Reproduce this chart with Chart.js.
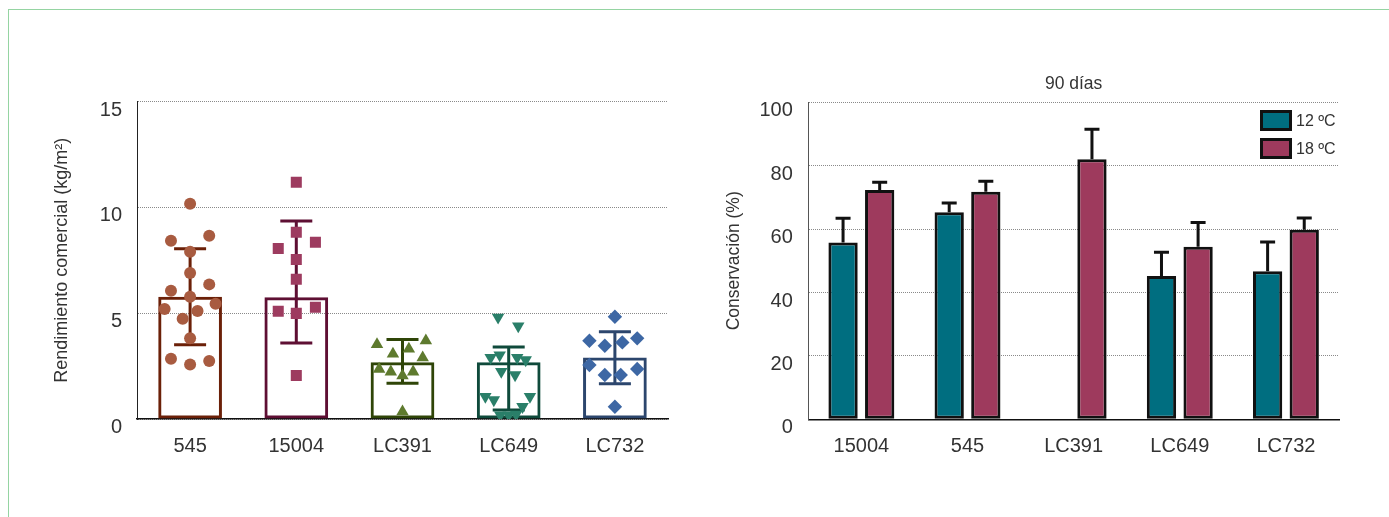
<!DOCTYPE html>
<html>
<head>
<meta charset="utf-8">
<script src="https://cdn.jsdelivr.net/npm/chart.js@4.4.1/dist/chart.umd.min.js"></script>
<style>
  html, body { margin: 0; padding: 0; background: #fff; }
  body { width: 1389px; height: 517px; position: relative; overflow: hidden; }
  .frame { position: absolute; left: 8px; top: 9px; width: 1500px; height: 600px;
           border-left: 1.5px solid #95d4a2; border-top: 1.5px solid #95d4a2; }
  canvas { position: absolute; top: 0; }
  #yieldChart { left: 0; }
  #storeChart { left: 700px; }
</style>
</head>
<body>
<div class="frame"></div>
<canvas id="yieldChart" width="700" height="517"></canvas>
<canvas id="storeChart" width="689" height="517"></canvas>
<script>
// ---- Left panel: commercial yield (kg/m²) per genotype ----
const yieldGenotypes = ['545', '15004', 'LC391', 'LC649', 'LC732'];
const yieldMeans   = [5.78, 5.75, 2.68, 2.68, 2.90];
const yieldErrLow  = [3.51, 3.59, 1.69, 0.42, 1.67];
const yieldErrHigh = [8.04, 9.35, 3.76, 3.40, 4.12];
const yieldTicks   = [0, 5, 10, 15];

// individual plot values and their horizontal spread (fraction of a category)
const plots545    = [10.17, 8.42, 8.66, 7.90, 6.90, 6.06, 6.36, 5.78, 5.20, 5.10, 5.45, 4.74, 3.81, 2.85, 2.74, 2.58];
const jitter545   = [0, -0.18, 0.18, 0, 0, -0.18, 0.18, 0, -0.24, 0.07, 0.24, -0.07, 0, -0.18, 0.18, 0];
const plots15004  = [11.18, 8.82, 8.06, 8.35, 7.54, 6.60, 5.09, 5.28, 4.99, 2.06];
const jitter15004 = [0, 0, -0.17, 0.18, 0, 0, -0.17, 0.18, 0, 0];
const plotsLC391  = [3.52, 3.70, 3.07, 3.31, 2.90, 2.36, 2.23, 2.05, 2.23, 0.35];
const jitterLC391 = [-0.24, 0.22, -0.09, 0.06, 0.19, -0.22, -0.11, 0, 0.10, 0];
const plotsLC649  = [4.80, 4.39, 2.90, 3.02, 2.90, 2.79, 2.24, 2.08, 1.06, 0.90, 1.06, 0.58, 0.19, 0.19, 0.22];
const jitterLC649 = [-0.10, 0.09, -0.17, -0.085, 0.08, 0.16, -0.07, 0.06, -0.22, -0.14, 0.20, 0.13, -0.08, 0, 0.07];
const plotsLC732  = [4.83, 3.70, 3.46, 3.62, 3.81, 2.55, 2.08, 2.08, 2.36, 0.58];
const jitterLC732 = [0, -0.24, -0.095, 0.07, 0.21, -0.24, -0.095, 0.055, 0.21, 0];

// ---- Right panel: conservation (%) after 90 days ----
const storeGenotypes = ['15004', '545', 'LC391', 'LC649', 'LC732'];
const store12  = [55.8, 65.3, null, 45.2, 46.7];
const store12Sd = [7.6, 2.9, null, 7.5, 9.2];
const store18  = [72.3, 71.8, 82.0, 54.4, 59.8];
const store18Sd = [2.5, 3.3, 9.5, 7.7, 3.7];
const storeTicks = [0, 20, 40, 60, 80, 100];

const FONT = '"Liberation Sans", Arial, Helvetica, sans-serif';
const TEXT = '#333333';

// whiskers drawn right after their bar dataset, under any point layer
const errorBarPlugin = {
  id: 'errorBars',
  afterDatasetDraw(chart, args) {
    const ds = chart.data.datasets[args.index];
    const eb = ds.errorBars;
    if (!eb) return;
    const yScale = chart.scales[args.meta.yAxisID];
    const ctx = chart.ctx;
    ctx.save();
    ctx.lineWidth = eb.width;
    ctx.lineCap = 'butt';
    args.meta.data.forEach((bar, i) => {
      const hi = eb.high[i];
      if (hi == null || ds.data[i] == null) return;
      const lo = eb.low ? eb.low[i] : ds.data[i];
      const x = bar.x;
      const yHi = yScale.getPixelForValue(hi);
      const yLo = yScale.getPixelForValue(lo);
      ctx.strokeStyle = Array.isArray(eb.color) ? eb.color[i] : eb.color;
      ctx.beginPath();
      ctx.moveTo(x, yLo); ctx.lineTo(x, yHi);
      ctx.moveTo(x - eb.cap / 2, yHi); ctx.lineTo(x + eb.cap / 2, yHi);
      if (eb.low) { ctx.moveTo(x - eb.cap / 2, yLo); ctx.lineTo(x + eb.cap / 2, yLo); }
      ctx.stroke();
    });
    ctx.restore();
  }
};

// boxed legend in the upper-right corner of the plot area
const cornerLegendPlugin = {
  id: 'cornerLegend',
  afterDraw(chart, args, opts) {
    if (!opts.display) return;
    const { ctx, chartArea } = chart;
    ctx.save();
    chart.data.datasets.forEach((ds, i) => {
      const x = chartArea.right + opts.offsetX;
      const y = chartArea.top + opts.offsetY + i * opts.rowGap;
      const w = opts.boxWidth, h = opts.boxHeight, bw = opts.borderWidth;
      ctx.fillStyle = ds.backgroundColor;
      ctx.fillRect(x, y, w, h);
      ctx.lineWidth = bw;
      ctx.strokeStyle = ds.borderColor;
      ctx.strokeRect(x + bw / 2, y + bw / 2, w - bw, h - bw);
      ctx.fillStyle = opts.color;
      ctx.font = opts.font;
      ctx.textAlign = 'left';
      ctx.textBaseline = 'middle';
      ctx.fillText(ds.label, x + w + opts.gap, y + h / 2 + 1);
    });
    ctx.restore();
  }
};

function fixedTicks(values) {
  return (scale) => { scale.ticks = values.map(v => ({ value: v })); };
}

// ---------- left chart ----------
const yieldColours = [
  { point: '#a85b40', line: '#6b2008', style: 'circle',   radius: 6,   rotation: 0,   plots: plots545,   jitter: jitter545 },
  { point: '#9d3b5f', line: '#5e0f33', style: 'rect',     radius: 7.8, rotation: 0,   plots: plots15004, jitter: jitter15004 },
  { point: '#5e7a2e', line: '#2f4508', style: 'triangle', radius: 7.2, rotation: 0,   plots: plotsLC391, jitter: jitterLC391 },
  { point: '#2a7f69', line: '#0f4a3b', style: 'triangle', radius: 7.2, rotation: 180, plots: plotsLC649, jitter: jitterLC649 },
  { point: '#3d67a4', line: '#2c466d', style: 'rectRot',  radius: 7.2, rotation: 0,   plots: plotsLC732, jitter: jitterLC732 }
];

const pointSets = yieldColours.map((c, gi) => ({
  type: 'scatter',
  label: yieldGenotypes[gi],
  xAxisID: 'xj',
  yAxisID: 'y',
  order: 1,
  data: c.plots.map((v, k) => ({ x: gi + c.jitter[k], y: v })),
  pointStyle: c.style,
  pointRadius: c.radius,
  pointRotation: c.rotation,
  pointBackgroundColor: c.point,
  pointBorderWidth: 0,
  pointHoverRadius: c.radius
}));

new Chart(document.getElementById('yieldChart'), {
  type: 'bar',
  plugins: [errorBarPlugin],
  data: {
    labels: yieldGenotypes,
    datasets: [
      {
        type: 'bar',
        label: 'Media',
        data: yieldMeans,
        xAxisID: 'x',
        yAxisID: 'y',
        order: 2,
        grouped: false,
        backgroundColor: 'rgba(0,0,0,0)',
        borderColor: yieldColours.map(c => c.line),
        borderWidth: 3,
        borderSkipped: false,
        barPercentage: 0.6,
        categoryPercentage: 1,
        errorBars: { low: yieldErrLow, high: yieldErrHigh, color: yieldColours.map(c => c.line), width: 3, cap: 32 }
      },
      ...pointSets
    ]
  },
  options: {
    responsive: false,
    animation: false,
    layout: { padding: { top: 101.5, right: 32, bottom: 58, left: 0 } },
    plugins: { legend: { display: false }, tooltip: { enabled: false } },
    scales: {
      x: {
        type: 'category',
        offset: true,
        grid: { display: false },
        border: { display: true, color: '#111', width: 1.5 },
        ticks: { color: TEXT, font: { family: FONT, size: 20 }, padding: 7, maxRotation: 0 },
        afterFit: (s) => { s.height = 40; }
      },
      // shares the plot width with the category axis: category i sits at value i
      xj: { type: 'linear', display: false, offset: false, min: -0.5, max: 4.5 },
      y: {
        min: 0, max: 15,
        afterBuildTicks: fixedTicks(yieldTicks),
        grid: { color: '#8a8a8a', lineWidth: 1, drawTicks: false },
        border: { display: true, color: '#222', width: 1, dash: [1, 1] },
        ticks: { color: TEXT, font: { family: FONT, size: 20 }, padding: 15, labelOffset: 8.5 },
        title: {
          display: true, text: 'Rendimiento comercial (kg/m²)', color: TEXT,
          font: { family: FONT, size: 18 }, padding: { top: 51.5, bottom: 0 }
        },
        afterFit: (s) => { s.width = 137; }
      }
    }
  }
});

// ---------- right chart ----------
new Chart(document.getElementById('storeChart'), {
  type: 'bar',
  plugins: [errorBarPlugin, cornerLegendPlugin],
  data: {
    labels: storeGenotypes,
    datasets: [
      {
        label: '12 ºC',
        data: store12,
        backgroundColor: '#006e80',
        borderColor: '#111111',
        borderWidth: 3,
        borderSkipped: false,
        errorBars: { high: store12.map((v, i) => v == null ? null : v + store12Sd[i]), color: '#111111', width: 3, cap: 15 }
      },
      {
        label: '18 ºC',
        data: store18,
        backgroundColor: '#9e3a5d',
        borderColor: '#111111',
        borderWidth: 3,
        borderSkipped: false,
        errorBars: { high: store18.map((v, i) => v + store18Sd[i]), color: '#111111', width: 3, cap: 15 }
      }
    ]
  },
  options: {
    responsive: false,
    animation: false,
    datasets: { bar: { categoryPercentage: 0.69, barPercentage: 0.8 } },
    layout: { padding: { top: 73.5, right: 50, bottom: 57.7, left: 0 } },
    plugins: {
      legend: { display: false },
      tooltip: { enabled: false },
      title: {
        display: true, text: '90 días', color: TEXT, fullSize: false, align: 'center',
        font: { family: FONT, size: 17.5, weight: 'normal' }, padding: { top: 0, bottom: 7.8 }
      },
      cornerLegend: {
        display: true, offsetX: -79, offsetY: 7.7, rowGap: 28, boxWidth: 32, boxHeight: 21,
        borderWidth: 3, gap: 4, color: TEXT, font: '16px ' + FONT
      }
    },
    scales: {
      x: {
        grid: { display: false },
        border: { display: true, color: '#111', width: 1.5 },
        ticks: { color: TEXT, font: { family: FONT, size: 20 }, padding: 7, maxRotation: 0 },
        afterFit: (s) => { s.height = 40; }
      },
      y: {
        min: 0, max: 100,
        afterBuildTicks: fixedTicks(storeTicks),
        grid: { color: '#8a8a8a', lineWidth: 1, drawTicks: false },
        border: { display: true, color: '#555', width: 1, dash: [1, 1] },
        ticks: { color: TEXT, font: { family: FONT, size: 20 }, padding: 15.5, labelOffset: 8.5 },
        title: {
          display: true, text: 'Conservación (%)', color: TEXT,
          font: { family: FONT, size: 17.5 }, padding: { top: 23.5, bottom: 0 }
        },
        afterFit: (s) => { s.width = 108.3; }
      }
    }
  }
});
</script>
</body>
</html>
